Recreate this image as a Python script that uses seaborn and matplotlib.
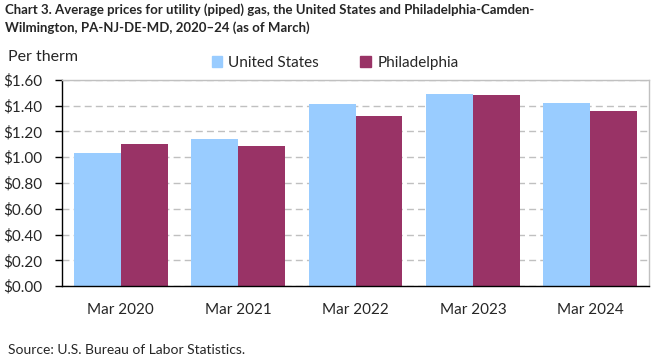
import matplotlib
matplotlib.use("Agg")
import matplotlib.pyplot as plt
import seaborn as sns
import pandas as pd
from matplotlib.ticker import FuncFormatter

months = ["Mar 2020", "Mar 2021", "Mar 2022", "Mar 2023", "Mar 2024"]
us_prices = [1.03, 1.14, 1.41, 1.49, 1.42]
phl_prices = [1.10, 1.09, 1.32, 1.48, 1.36]
series = ["United States", "Philadelphia"]
colors = ["#99CCFF", "#993366"]

df = pd.DataFrame({
    "month": months * 2,
    "price": us_prices + phl_prices,
    "area": [series[0]] * 5 + [series[1]] * 5,
})

sns.set_theme(style="white")
plt.rcParams["font.family"] = ["Lato", "DejaVu Sans"]

fig = plt.figure(figsize=(6.61, 3.61), dpi=100)
ax = fig.add_axes([62 / 661, 1 - 286 / 361, 587 / 661, 206 / 361])
sns.barplot(data=df, x="month", y="price", hue="area", palette=colors,
            width=0.8, saturation=1, linewidth=0, ax=ax, legend=False)

ax.set_ylim(0, 1.6)
ax.set_xlim(-0.5, 4.5)
ax.set_yticks([i * 0.2 for i in range(9)])
ax.yaxis.set_major_formatter(FuncFormatter(lambda v, p: f"${v:.2f}"))
ax.set_xlabel("")
ax.set_ylabel("")
ax.yaxis.grid(True, color="#c0c0c0", linestyle=(0, (5, 3)), linewidth=1)
ax.set_axisbelow(True)
ax.tick_params(axis="y", left=True, length=5, width=1, color="black", labelsize=11, pad=9)
ax.tick_params(axis="x", bottom=False, labelsize=11, pad=6)
for s in ["left", "bottom"]:
    ax.spines[s].set_color("black")
    ax.spines[s].set_linewidth(1)
for s in ["top", "right"]:
    ax.spines[s].set_color("#c0c0c0")
    ax.spines[s].set_linewidth(1)

handles = [plt.Rectangle((0, 0), 1, 1, color=c) for c in colors]
fig.legend(handles, series, loc="center", bbox_to_anchor=(335 / 661, 1 - 63 / 361),
           ncol=2, frameon=False, fontsize=11, handlelength=0.7, handleheight=0.7,
           handletextpad=0.4, columnspacing=2.7)

fig.text(5 / 661, 1 - 3 / 361,
         "Chart 3. Average prices for utility (piped) gas, the United States and Philadelphia-Camden-\n"
         "Wilmington, PA-NJ-DE-MD, 2020\u201324 (as of March)",
         ha="left", va="top", fontsize=9.5, fontweight="bold", linespacing=1.55)
fig.text(8 / 661, 1 - 57 / 361, "Per therm", ha="left", va="center", fontsize=11.5)
fig.text(8 / 661, 1 - 350 / 361, "Source: U.S. Bureau of Labor Statistics.",
         ha="left", va="center", fontsize=10)

fig.savefig("out.png", dpi=100)
